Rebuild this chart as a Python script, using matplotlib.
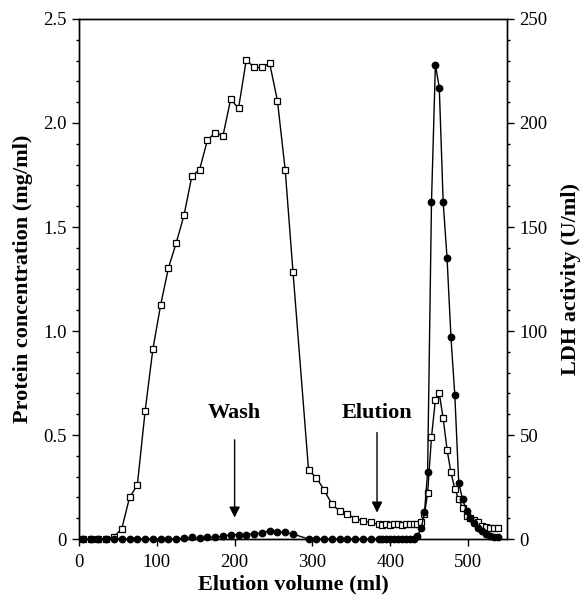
import matplotlib
matplotlib.use("Agg")
import matplotlib.pyplot as plt
from matplotlib.ticker import MultipleLocator, FixedLocator, FuncFormatter

plt.rcParams['font.family'] = ['Liberation Serif', 'DejaVu Serif']

# Elution volume (ml) of each fraction
volume = [5, 15, 25, 35, 45, 55, 65, 75, 85, 95, 105, 115, 125, 135, 145,
          155, 165, 175, 185, 195, 205, 215, 225, 235, 245, 255, 265, 275,
          295, 305, 315, 325, 335, 345, 355, 365, 375,
          385, 390, 395, 400, 405, 410, 415, 420, 425, 430, 435,
          440, 444, 448, 453, 458, 463, 468, 473, 478, 483, 488, 493, 498,
          503, 508, 513, 518, 523, 528, 533, 538]

# Protein concentration (mg/ml), open squares, left axis
protein = [0, 0, 0, 0, 0.011, 0.05, 0.20, 0.26, 0.615, 0.914, 1.126, 1.304,
           1.424, 1.557, 1.744, 1.776, 1.917, 1.954, 1.938, 2.115, 2.07,
           2.304, 2.267, 2.267, 2.287, 2.108, 1.774, 1.285,
           0.332, 0.295, 0.236, 0.167, 0.135, 0.119, 0.098, 0.087, 0.080,
           0.070, 0.068, 0.072, 0.068, 0.070, 0.070, 0.068, 0.070, 0.072,
           0.070, 0.072,
           0.08, 0.12, 0.22, 0.49, 0.67, 0.70, 0.58, 0.43, 0.32, 0.24, 0.19,
           0.15, 0.11, 0.10, 0.09, 0.08, 0.065, 0.058, 0.055, 0.052, 0.052]

# LDH activity (U/ml), filled circles, right axis
ldh = [0, 0, 0, 0, 0, 0, 0, 0, 0, 0, 0, 0, 0, 0.5, 0.8, 0.5, 0.8, 0.8, 1.3,
       2.1, 2.1, 2.1, 2.6, 2.9, 4.0, 3.4, 3.2, 2.4,
       0, 0, 0, 0, 0, 0, 0, 0, 0,
       0, 0, 0, 0, 0, 0, 0, 0, 0, 0, 1.5,
       5.5, 13, 32, 162, 228, 217, 162, 135, 97, 69, 27, 19, 13.5, 10, 7.6,
       5.4, 3.9, 2.3, 1.4, 1.0, 1.0]

x_ticks = [0, 100, 200, 300, 400, 500]
left_ticks = [0, 0.5, 1.0, 1.5, 2.0, 2.5]
right_ticks = [0, 50, 100, 150, 200, 250]

# BUILD PLOT
fig = plt.figure(figsize=(5.82, 6.03), dpi=100)
ax = fig.add_axes([0.1357, 0.1061, 0.7354, 0.8624])
ax2 = ax.twinx()

ax.plot(volume, protein, "k-", lw=1.0, marker="s", ms=4.3,
        mfc="white", mec="black", mew=0.9, clip_on=False, zorder=3)
ax2.plot(volume, ldh, "k-", lw=1.0, marker="o", ms=4.6,
         mfc="black", mec="black", clip_on=False, zorder=3)

# AXIS
ax.set_xlim(0, 550)
ax.set_ylim(0, 2.5)
ax2.set_ylim(0, 250)
ax.xaxis.set_major_locator(FixedLocator(x_ticks))
ax.yaxis.set_major_locator(FixedLocator(left_ticks))
ax.yaxis.set_minor_locator(MultipleLocator(0.1))
ax2.yaxis.set_major_locator(FixedLocator(right_ticks))
ax2.yaxis.set_minor_locator(MultipleLocator(10))
ax.yaxis.set_major_formatter(FuncFormatter(lambda v, p: "0" if v == 0 else f"{v:.1f}"))

for a in (ax, ax2):
    a.tick_params(which="major", direction="out", length=5, width=1.0,
                  labelsize=13.5, pad=4)
    a.tick_params(which="minor", direction="out", length=2.5, width=1.0)
    for s in a.spines.values():
        s.set_linewidth(1.0)
ax.tick_params(axis="x", pad=6)
ax.tick_params(axis="x", which="minor", bottom=False)

# LABELS
ax.set_xlabel("Elution volume (ml)", fontsize=16, fontweight="bold", labelpad=2)
ax.set_ylabel("Protein concentration (mg/ml)", fontsize=16, fontweight="bold",
              labelpad=7)
ax2.set_ylabel("LDH activity (U/ml)", fontsize=16, fontweight="bold",
               labelpad=10)

# ARROWS
ax.annotate("", xy=(200, 0.103), xytext=(200, 0.477),
            arrowprops=dict(arrowstyle="-|>", color="k", lw=1.0,
                            mutation_scale=16, shrinkA=0, shrinkB=0))
ax.text(200, 0.607, "Wash", ha="center", va="center", fontsize=16,
        fontweight="bold")
ax.annotate("", xy=(383, 0.127), xytext=(383, 0.512),
            arrowprops=dict(arrowstyle="-|>", color="k", lw=1.0,
                            mutation_scale=16, shrinkA=0, shrinkB=0))
ax.text(383, 0.604, "Elution", ha="center", va="center", fontsize=16,
        fontweight="bold")

fig.savefig("out.png", dpi=100)
